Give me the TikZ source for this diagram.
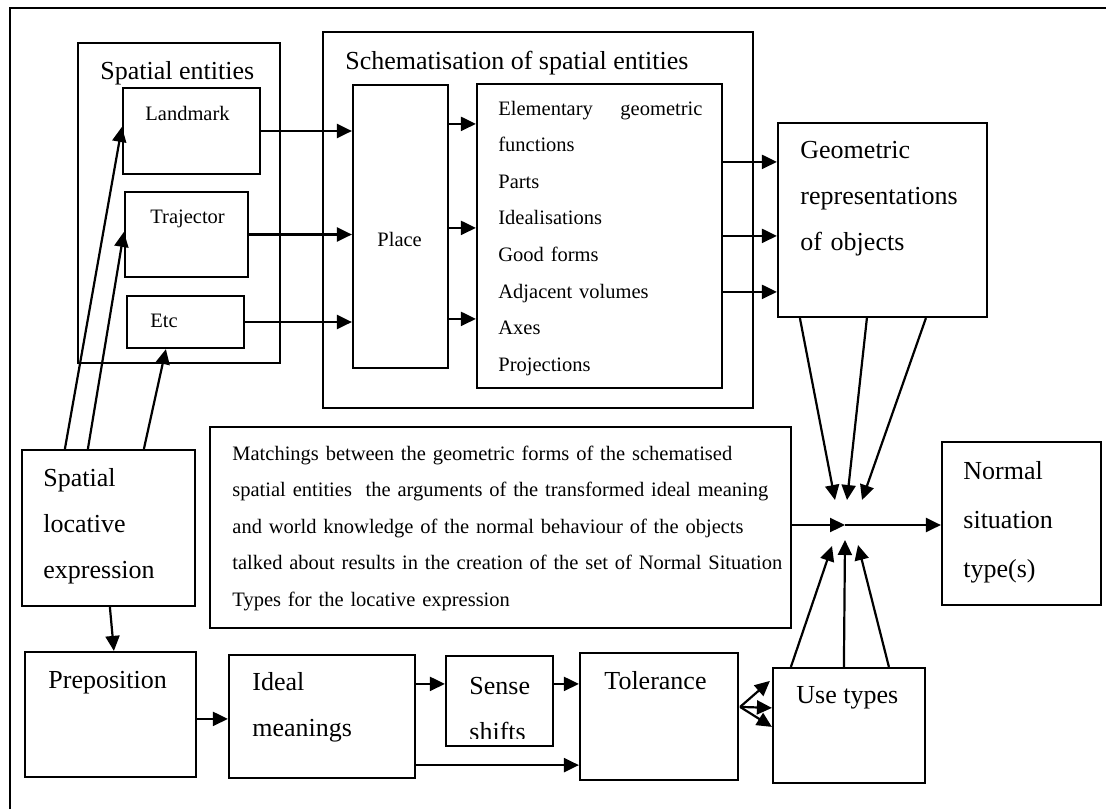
\documentclass[tikz,border=0pt]{standalone}
\usepackage{fontspec}
\setmainfont{Liberation Serif}
\usetikzlibrary{arrows.meta, positioning, fit, calc}

\begin{document}
\begin{tikzpicture}[
  x=0.5pt, y=-0.5pt,
  box/.style={draw, line width=1.1pt, inner sep=0pt},
  big/.style={font=\fontsize{13}{23}\selectfont, inner sep=0pt, anchor=base west},
  small/.style={font=\fontsize{10.25}{18.3}\selectfont, inner sep=0pt, anchor=base west},
  arr/.style={-{Triangle[length=7.5pt, width=7pt]}, line width=1.1pt}
]
  \useasboundingbox (0,0) rectangle (1106,809);

  %% Outer frame (top and left only)
  \draw[line width=0.9pt] (10,809) -- (10,8) -- (1106,8);

  %% Spatial entities
  \node[box, fit={(78,43) (280,363)}]   (entities)  {};
  \node[big] (entitiesT) at (100,79) {Spatial entities};
  \node[box, fit={(123,88) (260,174)}]  (landmark)  {};
  \node[small] (landmarkT) at (145,120) {Landmark};
  \node[box, fit={(125,192) (248,277)}] (trajector) {};
  \node[small] (trajectorT) at (150,223) {Trajector};
  \node[box, fit={(127,296) (244,348)}] (etc)       {};
  \node[small] (etcT) at (150,327) {Etc};

  %% Schematisation
  \node[box, fit={(323,32) (753,408)}]  (schema) {};
  \node[big] (schemaT) at (345,69) {Schematisation of spatial entities};
  \node[box, fit={(353,85) (448,368)}]  (place)  {};
  \node[small] (placeT) at (377,246) {Place};
  \node[box, fit={(477,84) (722,388)}]  (list)   {};
  \node[small, text width=102pt, align=left] (listT) at (498,115)
    {Elementary\hfill geometric\\functions\\Parts\\Idealisations\\Good forms\\Adjacent volumes\\Axes\\Projections};

  %% Geometric representations
  \node[box, fit={(778,123) (987,317)}] (geom) {};
  \node[big, text width=100pt, align=left] (geomT) at (800,158)
    {Geometric\\representations\\of objects};

  %% Middle row
  \node[box, fit={(22,450) (195,606)}]  (spatial) {};
  \node[big, text width=75pt, align=left] (spatialT) at (43,486)
    {Spatial\\locative\\expression};
  \node[box, fit={(210,427) (791,628)}] (match) {};
  \node[small, text width=280pt, align=left] (matchT) at (232,460)
    {Matchings between the geometric forms of the schematised\\
     spatial entities~ the arguments of the transformed ideal meaning\\
     and world knowledge of the normal behaviour of the objects\\
     talked about results in the creation of the set of Normal Situation\\
     Types for the locative expression};
  \node[box, fit={(942,442) (1101,605)}] (normal) {};
  \node[big, font=\fontsize{13}{24.5}\selectfont, text width=65pt, align=left] (normalT) at (963,479)
    {Normal\\situation\\type(s)};
  \coordinate (junc) at (845,525);

  %% Bottom row
  \node[box, fit={(25,652) (196,777)}]  (prep)     {};
  \node[big] (prepT) at (48,688) {Preposition};
  \node[box, fit={(229,655) (415,778)}] (ideal)    {};
  \node[big, text width=75pt, align=left] (idealT) at (252,690) {Ideal\\meanings};
  \node[box, fit={(446,656) (553,746)}] (sense)    {};
  \begin{scope}
    \clip (sense.north west) rectangle ($(sense.south east)+(0,-9)$);
    \node[big, text width=45pt, align=left] (senseT) at (469,694) {Sense\\shifts};
  \end{scope}
  \node[box, fit={(580,653) (738,780)}] (toler)    {};
  \node[big] (tolerT) at (604,689) {Tolerance};
  \node[box, fit={(773,668) (925,783)}] (usetypes) {};
  \node[big] (usetypesT) at (796,703) {Use types};

  %% Spatial expression -> entities
  \draw[arr] ($(spatial.north west)+(44,0)$)  -- ($(landmark.north west)+(0,40)$);
  \draw[arr] ($(spatial.north west)+(67,0)$)  -- ($(trajector.north west)+(0,41)$);
  \draw[arr] ($(spatial.north west)+(123,0)$) -- ($(etc.south west)+(40,0)$);

  %% Entities -> Place
  \draw[arr] (landmark.east)  -- (landmark.east -| place.west);
  \draw[arr] (trajector.east) -- (trajector.east -| place.west);
  \draw[arr] (etc.east)       -- (etc.east -| place.west);

  %% Place -> list
  \draw[arr] ($(place.north east)+(0,40)$)  -- ($(list.north west)+(0,41)$);
  \draw[arr] ($(place.north east)+(0,144)$) -- ($(list.north west)+(0,145)$);
  \draw[arr] ($(place.north east)+(0,235)$) -- ($(list.north west)+(0,236)$);

  %% list -> Geometric
  \draw[arr] ($(list.north east)+(0,79)$)  -- ($(geom.north west)+(0,40)$);
  \draw[arr] ($(list.north east)+(0,153)$) -- ($(geom.north west)+(0,114)$);
  \draw[arr] ($(list.north east)+(0,209)$) -- ($(geom.north west)+(0,170)$);

  %% Geometric -> junction
  \draw[arr] ($(geom.south west)+(23,0)$)  -- ($(junc)+(-10,-25)$);
  \draw[arr] ($(geom.south west)+(90,0)$)  -- ($(junc)+(2,-25)$);
  \draw[arr] ($(geom.south west)+(149,0)$) -- ($(junc)+(17,-25)$);

  %% Matchings -> junction -> Normal
  \draw[arr] (match.east |- junc) -- (junc);
  \draw[arr] (junc) -- (normal.west |- junc);

  %% Use types -> junction
  \draw[arr] ($(usetypes.north west)+(19,0)$)  -- ($(junc)+(-13,21)$);
  \draw[arr] ($(usetypes.north west)+(72,0)$)  -- ($(junc)+(0,15)$);
  \draw[arr] ($(usetypes.north west)+(117,0)$) -- ($(junc)+(13,20)$);

  %% Spatial expression -> Preposition
  \draw[arr] ($(spatial.south west)+(89,0)$) -- ($(prep.north west)+(90,0)$);

  %% Bottom row
  \draw[arr] ($(prep.north east)+(0,68)$)   -- ($(ideal.north west)+(0,65)$);
  \draw[arr] ($(ideal.north east)+(0,30)$)  -- ($(sense.north west)+(0,29)$);
  \draw[arr] ($(sense.north east)+(0,29)$)  -- ($(toler.north west)+(0,32)$);
  \draw[arr] ($(ideal.south east)+(0,-14)$) -- ($(toler.south west)+(0,-16)$);

  %% Tolerance -> Use types
  \draw[arr] ($(toler.north east)+(1,55)$) -- ($(usetypes.north west)+(-2,14)$);
  \draw[arr] ($(toler.north east)+(1,55)$) -- ($(usetypes.north west)+(0,41)$);
  \draw[arr] ($(toler.north east)+(1,55)$) -- ($(usetypes.north west)+(0,60)$);
\end{tikzpicture}
\end{document}
